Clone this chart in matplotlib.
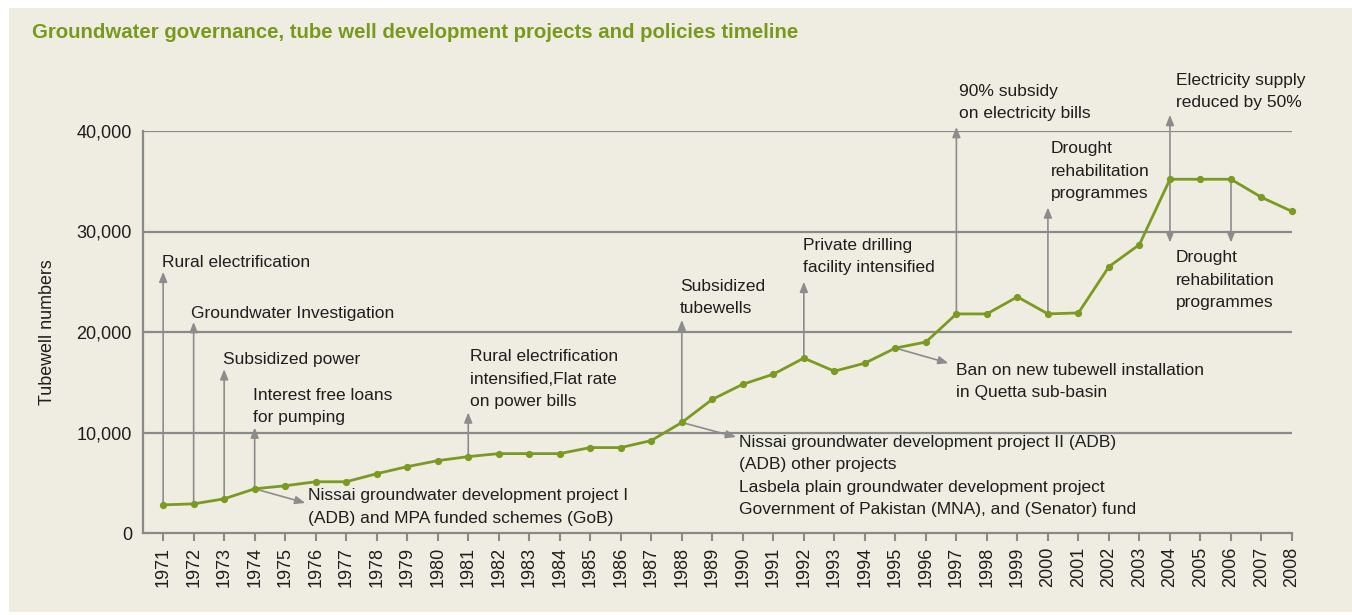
import matplotlib
matplotlib.use("Agg")
import matplotlib.pyplot as plt
from matplotlib.patches import Rectangle

# ---------------- data ----------------
years = list(range(1971, 2009))
tubewells = [2800, 2900, 3400, 4400, 4700, 5100, 5100, 5900, 6600, 7200,
             7600, 7900, 7900, 7900, 8500, 8500, 9200, 11000, 13300, 14800,
             15800, 17400, 16100, 16900, 18400, 19000, 21800, 21800, 23500, 21800,
             21900, 26500, 28700, 35200, 35200, 35200, 33400, 32000]
ytick_values = [0, 10000, 20000, 30000, 40000]
ytick_labels = ["0", "10,000", "20,000", "30,000", "40,000"]

title = "Groundwater governance, tube well development projects and policies timeline"
ylabel = "Tubewell numbers"

# event labels
event_texts = [
    "Rural electrification",
    "Groundwater Investigation",
    "Subsidized power",
    "Interest free loans\nfor pumping",
    "Nissai groundwater development project I\n(ADB) and MPA funded schemes (GoB)",
    "Rural electrification\nintensified,Flat rate\non power bills",
    "Subsidized\ntubewells",
    "Nissai groundwater development project II (ADB)\n(ADB) other projects\n"
    "Lasbela plain groundwater development project\n"
    "Government of Pakistan (MNA), and (Senator) fund",
    "Private drilling\nfacility intensified",
    "Ban on new tubewell installation\nin Quetta sub-basin",
    "90% subsidy\non electricity bills",
    "Drought\nrehabilitation\nprogrammes",
    "Electricity supply\nreduced by 50%",
    "Drought\nrehabilitation\nprogrammes",
]
# text anchor (left, vertical centre) in data coordinates
event_text_x = [1970.97, 1971.92, 1972.97, 1973.95, 1975.76, 1981.05, 1987.94,
                1989.88, 1991.98, 1997.0, 1997.07, 2000.09, 2004.19, 2004.19]
event_text_y = [26870, 21890, 17310, 12590, 2590, 15320, 23430,
                5670, 27510, 15070, 42850, 36000, 43900, 25170]

# arrows: (start year, end x, end y)  start y is the series value at start year
arrow_start_year = [1971, 1972, 1973, 1974, 1974, 1981, 1988, 1988, 1992, 1995,
                    1997, 2000, 2004, 2004, 2006]
arrow_end_x = [1971, 1972, 1973, 1974, 1975.66, 1981, 1988, 1989.78, 1992, 1996.74,
               1997, 2000, 2004, 2004, 2006]
arrow_end_y = [26000, 21000, 16300, 10500, 2990, 12000, 21200, 9550, 25000, 16900,
               40400, 32400, 41600, 28900, 28900]

# ---------------- style ----------------
BG = "#efede1"
GREEN = "#7b9a22"
TITLE_GREEN = "#789a1c"
GRID = "#8a8a8a"
ARROW = "#8c8c8c"
TEXT = "#1e1e1e"
FONT = ["Liberation Sans", "DejaVu Sans"]

plt.rcParams["font.family"] = FONT

fig = plt.figure(figsize=(13.52, 6.15), dpi=100)
fig.patch.set_facecolor("white")
bg_rect = Rectangle((9 / 1352, 0.005), 1 - 9 / 1352, 1 - 8 / 615 - 0.005,
                    transform=fig.transFigure, facecolor=BG,
                    edgecolor="none", zorder=-10)
fig.add_artist(bg_rect)

ax = fig.add_axes([143 / 1352, 1 - 533 / 615, (1292 - 143) / 1352, (533 - 131) / 615])
ax.set_facecolor("none")
ax.set_zorder(1)

ax.set_xlim(1970.34, 2008.0)
ax.set_ylim(0, 40000)

for v in ytick_values[1:]:
    ax.axhline(v, color=GRID, lw=1.6, zorder=1)

ax.plot(years, tubewells, color=GREEN, lw=2.0, marker="o", ms=4.2,
        markerfacecolor=GREEN, markeredgecolor=GREEN, zorder=4, clip_on=False)

val = dict(zip(years, tubewells))
for sy, ex, ey in zip(arrow_start_year, arrow_end_x, arrow_end_y):
    ax.annotate("", xy=(ex, ey), xytext=(sy, val[sy]),
                arrowprops=dict(arrowstyle="-|>,head_length=0.6,head_width=0.24",
                                color=ARROW, lw=1.2, shrinkA=0, shrinkB=0),
                annotation_clip=False, zorder=3)

for t, x, y in zip(event_texts, event_text_x, event_text_y):
    ax.text(x, y, t, ha="left", va="center", fontsize=12.5, color=TEXT,
            linespacing=1.6, clip_on=False, zorder=5)

ax.set_xticks(years)
ax.set_xticklabels([str(y) for y in years], rotation=90, fontsize=13, color=TEXT)
ax.set_yticks(ytick_values)
ax.set_yticklabels(ytick_labels, fontsize=13, color=TEXT)
ax.tick_params(axis="x", length=6, width=1.5, color=GRID, pad=4)
ax.tick_params(axis="y", length=0, pad=8)

for s in ["top", "right"]:
    ax.spines[s].set_visible(False)
for s in ["left", "bottom"]:
    ax.spines[s].set_color(GRID)
    ax.spines[s].set_linewidth(1.6)

ax.set_ylabel(ylabel, fontsize=12.9, color=TEXT)
ax.yaxis.set_label_coords(-0.0758, 0.5)

fig.text(32 / 1352, 1 - 32 / 615, title, ha="left", va="center",
         fontsize=14.7, fontweight="bold", color=TITLE_GREEN)

fig.savefig("out.png", dpi=100, facecolor=fig.get_facecolor())
